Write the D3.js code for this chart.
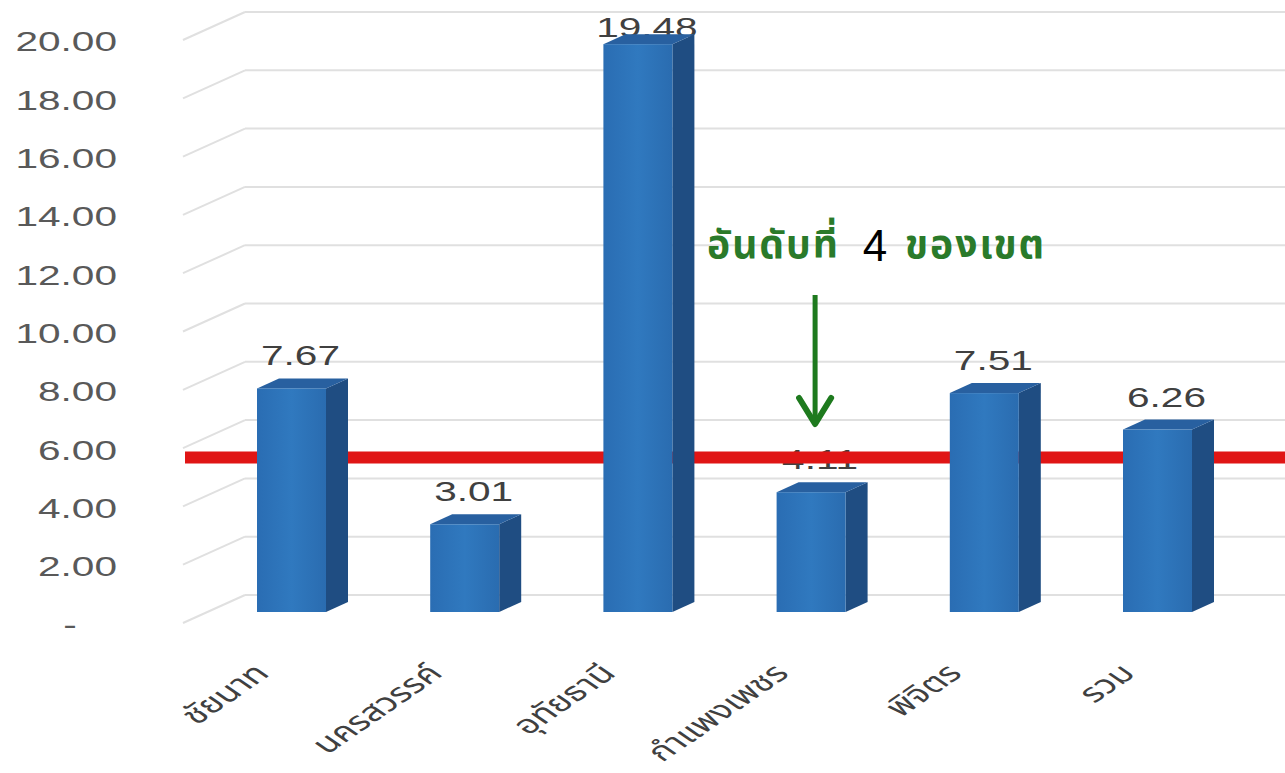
<!DOCTYPE html>
<html><head><meta charset="utf-8">
<script src="https://cdn.jsdelivr.net/npm/d3@7/dist/d3.min.js"></script>
<style>body{margin:0;background:#fff}svg{display:block}</style>
</head><body>
<svg id="c" width="1285" height="773"></svg>
<script>
const categories = ["ชัยนาท","นครสวรรค์","อุทัยธานี","กำแพงเพชร","พิจิตร","รวม"];
const values = [7.67, 3.01, 19.48, 4.11, 7.51, 6.26];
const tickValues = [0,2,4,6,8,10,12,14,16,18,20];
const tickLabels = ["-","2.00","4.00","6.00","8.00","10.00","12.00","14.00","16.00","18.00","20.00"];
const targetValue = 5.3;
const annotation = {pre:"อันดับที่", num:"4", post:"ของเขต", category:"กำแพงเพชร"};

const svg = d3.select("#c");
const thaiFont = "'Noto Sans Thai','Loma','Garuda','Norasi','Noto Sans','DejaVu Sans',sans-serif";
const numFont = "'Liberation Sans',Arial,sans-serif";
const stretch = 1.45; // the reference is horizontally stretched

const y = d3.scaleLinear().domain([0,20]).range([612, 29]);
const backDy = -17, axisDy = 13;
const x = d3.scalePoint().domain(categories).range([291.5, 1157.5]);
const barW = 69, depX = 22, depY = -10;

const g = svg.append("g");
tickValues.forEach(v => {
  const yb = y(v) + backDy, ya = y(v) + axisDy;
  g.append("line").attr("x1",245).attr("x2",1285).attr("y1",yb).attr("y2",yb)
    .attr("stroke","#e0e0e0").attr("stroke-width",2);
  g.append("line").attr("x1",183).attr("y1",ya-2).attr("x2",245).attr("y2",yb)
    .attr("stroke","#e0e0e0").attr("stroke-width",2);
});
tickValues.forEach((v,i) => {
  svg.append("text").attr("transform",`translate(${i===0 ? 70 : 117},${y(v)+axisDy+2}) scale(${stretch},1)`)
    .attr("text-anchor", i===0 ? "middle" : "end").attr("dominant-baseline","middle")
    .attr("font-family", numFont).attr("font-size", 28)
    .attr("fill","#595959").text(tickLabels[i]);
});

values.forEach((v,i) => {
  const top = y(v);
  svg.append("text").attr("transform",`translate(${x(categories[i]) + 9},${Math.max(top - 23, 37)}) scale(${stretch},1)`)
    .attr("text-anchor","middle").attr("font-family", numFont).attr("font-size", 28)
    .attr("fill","#404040").text(v.toFixed(2));
});

svg.append("line").attr("x1",185).attr("x2",1285).attr("y1",y(targetValue)).attr("y2",y(targetValue))
  .attr("stroke","#e01515").attr("stroke-width",12);

const defs = svg.append("defs");
const grad = defs.append("linearGradient").attr("id","fg").attr("x1","0").attr("x2","1");
grad.append("stop").attr("offset","0").attr("stop-color","#2a6db3");
grad.append("stop").attr("offset","0.5").attr("stop-color","#3079bf");
grad.append("stop").attr("offset","1").attr("stop-color","#2a6cb0");
categories.forEach((c,i) => {
  const cx = x(c), l = cx - barW/2, r = cx + barW/2, t = y(values[i]), b = y(0);
  svg.append("path").attr("d",`M${r},${t}L${r+depX},${t+depY}L${r+depX},${b+depY}L${r},${b}Z`).attr("fill","#1f4d82");
  svg.append("path").attr("d",`M${l},${t}L${l+depX},${t+depY}L${r+depX},${t+depY}L${r},${t}Z`).attr("fill","#2860a0");
  svg.append("rect").attr("x",l).attr("y",t).attr("width",barW).attr("height",b-t).attr("fill","url(#fg)");
});

categories.forEach(c => {
  svg.append("text").attr("transform",`translate(${x(c)-42},660) scale(${stretch},1) rotate(-45)`)
    .attr("text-anchor","end").attr("dy","0.8em")
    .attr("font-family", thaiFont).attr("font-size", 26)
    .attr("fill","#404040").text(c);
});

const ax = x(annotation.category) + 4;
svg.append("text").attr("x",707).attr("y",258).attr("font-size",39).attr("letter-spacing",2)
  .attr("font-family",thaiFont).attr("fill","#2a7a2a").attr("font-weight","bold").text(annotation.pre);
svg.append("text").attr("x",875).attr("y",261).attr("text-anchor","middle").attr("font-size",44)
  .attr("font-family","'Liberation Sans',Arial,sans-serif").attr("fill","#000").text(annotation.num);
svg.append("text").attr("x",905).attr("y",258).attr("font-size",39).attr("letter-spacing",2)
  .attr("font-family",thaiFont).attr("fill","#2a7a2a").attr("font-weight","bold").text(annotation.post);
svg.append("line").attr("x1",ax).attr("x2",ax).attr("y1",295).attr("y2",424).attr("stroke","#1e7a1e").attr("stroke-width",5);
svg.append("path").attr("d",`M${ax-16},${398}L${ax},${424}L${ax+16},${398}`).attr("fill","none")
  .attr("stroke","#1e7a1e").attr("stroke-width",6).attr("stroke-linecap","round").attr("stroke-linejoin","round");
</script>
</body></html>
